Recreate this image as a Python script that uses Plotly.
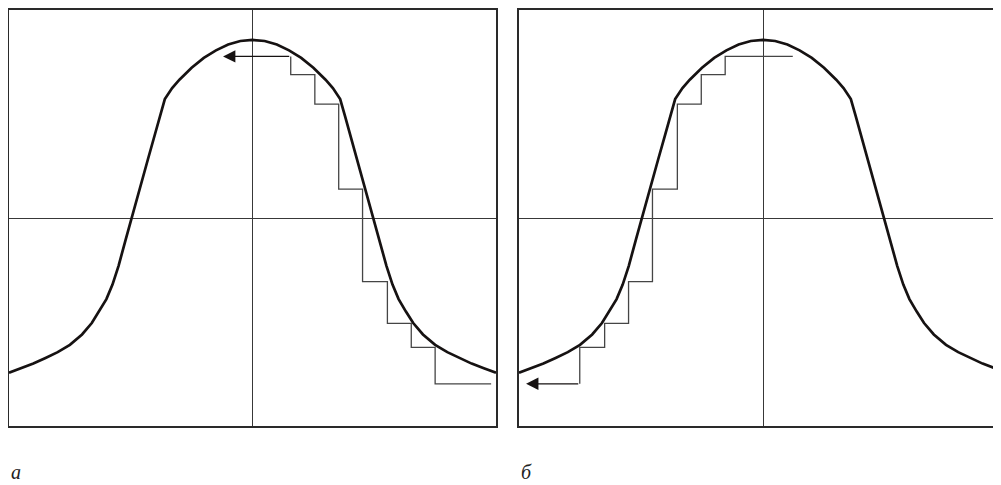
import plotly.graph_objects as go

# Bell-shaped curve (right half, symmetric about x = 0), data units
half_x = [0.00, 0.05, 0.10, 0.15, 0.20, 0.25, 0.30, 0.33, 0.36, 0.38, 0.40, 0.43, 0.46,
          0.497, 0.52, 0.55, 0.575, 0.60, 0.63, 0.66, 0.70, 0.75, 0.80, 0.85, 0.90, 0.95, 1.00]
half_y = [0.856, 0.851, 0.834, 0.806, 0.770, 0.722, 0.665, 0.625, 0.572, 0.49, 0.405, 0.28, 0.15,
          0.0, -0.10, -0.23, -0.32, -0.39, -0.45, -0.505, -0.56, -0.61, -0.645, -0.673, -0.700, -0.722, -0.744]

curve_x = [-v for v in half_x[::-1]] + half_x[1:]
curve_y = half_y[::-1] + half_y[1:]

# Staircase, panel "а" (descending branch, traversed upward to the left)
steps_a_x = [0.98, 0.75, 0.652, 0.554, 0.452, 0.354, 0.256, 0.157]
steps_a_y = [-0.797, -0.622, -0.507, -0.306, 0.139, 0.547, 0.689, 0.777]
arrow_a_x = -0.121

# Staircase, panel "б" (ascending branch, traversed downward to the left)
steps_b_x = [0.122, -0.155, -0.253, -0.351, -0.453, -0.551, -0.649, -0.751]
steps_b_y = [0.777, 0.689, 0.547, 0.139, -0.306, -0.507, -0.622, -0.797]
arrow_b_x = -0.971

panel_labels = ["а", "б"]

W, H = 993, 477   # page adds an 8 px body margin
CURVE_COLOR = "#161212"
STEP_COLOR = "#454545"
FRAME_COLOR = "#2a2a2a"

fig = go.Figure()

for i, (sx, sy, ax_tip) in enumerate([(steps_a_x, steps_a_y, arrow_a_x),
                                       (steps_b_x, steps_b_y, arrow_b_x)]):
    xa = "x" if i == 0 else "x2"
    ya = "y" if i == 0 else "y2"
    fig.add_trace(go.Scatter(x=sx, y=sy, mode="lines", line=dict(color=STEP_COLOR, width=1.3, shape="hv"),
                             xaxis=xa, yaxis=ya, hoverinfo="skip", showlegend=False))
    fig.add_trace(go.Scatter(x=curve_x, y=curve_y, mode="lines", line=dict(color=CURVE_COLOR, width=2.7),
                             xaxis=xa, yaxis=ya, hoverinfo="skip", showlegend=False))
    fig.add_annotation(x=ax_tip, y=sy[-1], ax=sx[-1], ay=sy[-1], xref=xa, yref=ya,
                       axref=xa, ayref=ya, text="", showarrow=True, arrowhead=2,
                       arrowsize=1.9, arrowwidth=1.3, arrowcolor=CURVE_COLOR, standoff=0)

axis_common = dict(showgrid=False, showticklabels=False, ticks="", zeroline=True,
                   zerolinecolor="#383838", zerolinewidth=1, showline=True,
                   linecolor=FRAME_COLOR, linewidth=1.5)

ydom = [59 / H, 475 / H]
fig.update_layout(
    width=W, height=H,
    margin=dict(l=0, r=0, t=0, b=0),
    paper_bgcolor="white", plot_bgcolor="white",
    xaxis=dict(domain=[1 / W, 488 / W], range=[-1, 1], mirror=True, **axis_common),
    yaxis=dict(domain=ydom, range=[-1, 1], mirror=True, **axis_common),
    xaxis2=dict(domain=[511 / W, 1.0], range=[-1, (1001 - 763) / 244], mirror=True, anchor="y2", **axis_common),
    yaxis2=dict(domain=ydom, range=[-1, 1], mirror=False, anchor="x2", **axis_common),
)

for lbl, xpos in zip(panel_labels, [1 / W, 511 / W]):
    fig.add_annotation(text="<i>" + lbl + "</i>", x=xpos, y=0.0, xref="paper", yref="paper",
                       xanchor="left", yanchor="bottom", showarrow=False,
                       font=dict(family="Liberation Serif", size=20, color="#222"))

fig.write_html("out.html")
